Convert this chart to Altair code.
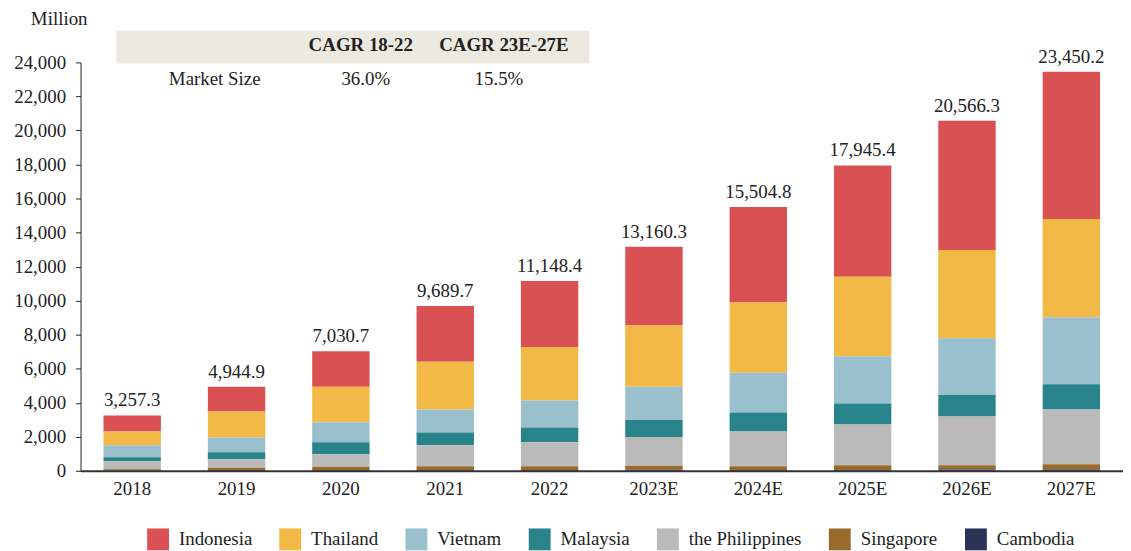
import altair as alt
import pandas as pd

years = ["2018", "2019", "2020", "2021", "2022", "2023E", "2024E", "2025E", "2026E", "2027E"]
totals = [3257.3, 4944.9, 7030.7, 9689.7, 11148.4, 13160.3, 15504.8, 17945.4, 20566.3, 23450.2]

countries = ["Indonesia", "Thailand", "Vietnam", "Malaysia", "the Philippines", "Singapore", "Cambodia"]
colors = ["#D95152", "#F2B946", "#9ABFCD", "#29838B", "#BABABA", "#986B2B", "#2B3358"]

indonesia = [941, 1462, 2088, 3288, 3870, 4617, 5619, 6541, 7586, 8660]
thailand = [818, 1518, 2082, 2802, 3152, 3600, 4126, 4671, 5196, 5761]
vietnam = [700, 875, 1187, 1343, 1577, 1962, 2335, 2783, 3308, 3949]
malaysia = [234, 409, 701, 759, 875, 993, 1109, 1226, 1285, 1480]
philippines = [474, 506, 739, 1226, 1402, 1693, 2044, 2393, 2860, 3211]
singapore = [55, 130, 180, 220, 220, 235, 220, 280, 260, 310]
cambodia = [35, 45, 54, 52, 52, 60, 52, 51, 71, 79]

y_ticks = [0, 2000, 4000, 6000, 8000, 10000, 12000, 14000, 16000, 18000, 20000, 22000, 24000]

table_header = ["CAGR 18-22", "CAGR 23E-27E"]
table_row_label = "Market Size"
table_values = ["36.0%", "15.5%"]

series = [indonesia, thailand, vietnam, malaysia, philippines, singapore, cambodia]
rows = []
for ci, (name, vals) in enumerate(zip(countries, series)):
    for y, v in zip(years, vals):
        rows.append({"year": y, "country": name, "value": v, "order": ci})
df = pd.DataFrame(rows)
tot_df = pd.DataFrame({"year": years, "total": totals})
one = pd.DataFrame({"k": [0]})

FONT = "Liberation Serif"
TXT = "#222222"

x_scale = alt.Scale(paddingInner=0.45, paddingOuter=0.22)
y_scale = alt.Scale(domain=[0, 24000], nice=False)

x_axis = alt.Axis(labelAngle=0, ticks=False, labelPadding=9, labelFontSize=19,
                  labelFont=FONT, labelColor=TXT, domainColor="#333333",
                  domainWidth=2, title=None)
y_axis = alt.Axis(values=y_ticks, format=",d", grid=False,
                  labelOverlap=False, tickSize=5, labelPadding=10, labelFontSize=19,
                  labelFont=FONT, labelColor=TXT, domainColor="#222222",
                  tickColor="#222222",
                  title="Million", titleAngle=0, titleX=-22, titleY=-44,
                  titleAlign="center", titleBaseline="middle", titleFont=FONT,
                  titleFontSize=19, titleFontWeight="normal", titleColor=TXT)

bars = alt.Chart(df).mark_bar().encode(
    x=alt.X("year:N", sort=years, scale=x_scale, axis=x_axis),
    y=alt.Y("value:Q", stack="zero", scale=y_scale, axis=y_axis),
    color=alt.Color(
        "country:N", sort=countries,
        scale=alt.Scale(domain=countries, range=colors),
        legend=alt.Legend(orient="none", legendX=67, legendY=469, direction="horizontal",
                          title=None, symbolType="square", symbolSize=484,
                          symbolStrokeWidth=0, symbolOpacity=1, labelFontSize=19,
                          labelFont=FONT, labelColor=TXT, labelOffset=10,
                          columnPadding=27, labelLimit=300),
    ),
    order=alt.Order("order:Q", sort="descending"),
)

labels = alt.Chart(tot_df).mark_text(
    baseline="bottom", dy=-5, fontSize=19, font=FONT, color=TXT
).encode(
    x=alt.X("year:N", sort=years, scale=x_scale, axis=x_axis),
    y=alt.Y("total:Q", scale=y_scale, axis=y_axis),
    text=alt.Text("total:Q", format=",.1f"),
)

rect = alt.Chart(one).mark_rect(color="#ECEAE0").encode(
    x=alt.value(36), x2=alt.value(512), y=alt.value(-32), y2=alt.value(1)
)


def t(text, x, y, bold=False):
    return alt.Chart(one).mark_text(
        fontSize=19, font=FONT, color=TXT, align="center", baseline="middle",
        fontWeight="bold" if bold else "normal"
    ).encode(x=alt.value(x), y=alt.value(y), text=alt.value(text))


table = (
    rect
    + t(table_header[0], 282, -17, True)
    + t(table_header[1], 426, -17, True)
    + t(table_row_label, 135, 17)
    + t(table_values[0], 287, 17)
    + t(table_values[1], 421, 17)
)

chart = alt.layer(bars, labels, table).properties(
    width=1049, height=411,
    padding={"left": 73, "top": 53, "right": 0, "bottom": 86},
    autosize=alt.AutoSizeParams(type="none"),
).configure(background="white").configure_view(stroke=None)

chart.save("out.html", embed_options={"renderer": "svg", "actions": False})
